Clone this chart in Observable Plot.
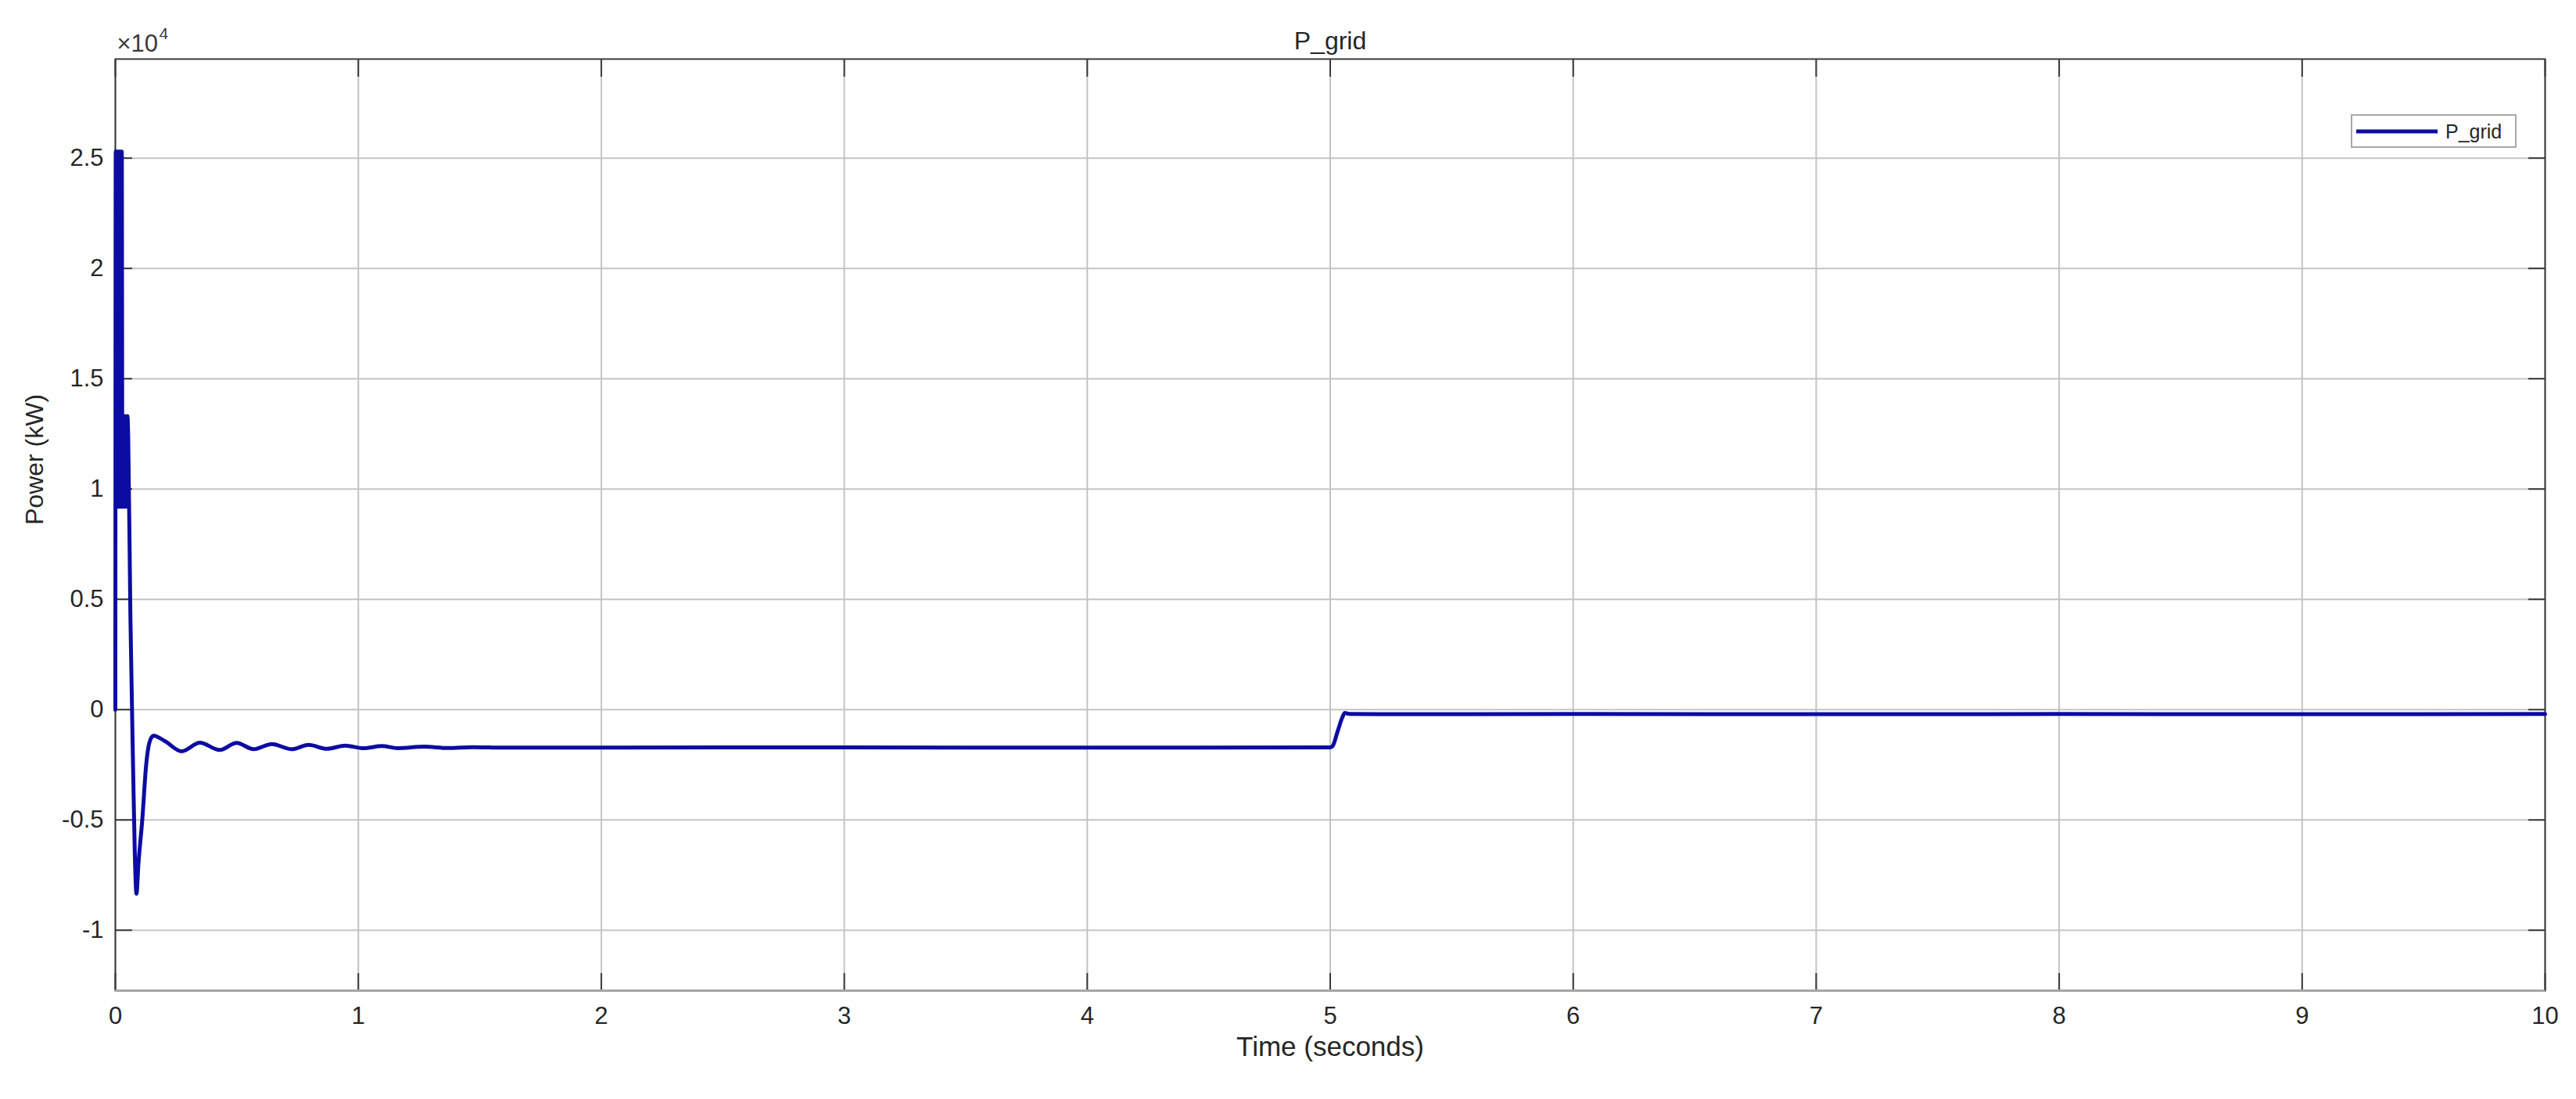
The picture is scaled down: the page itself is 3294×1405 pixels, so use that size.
<!DOCTYPE html>
<html>
<head>
<meta charset="utf-8">
<script src="https://cdn.jsdelivr.net/npm/d3@7"></script>
<script src="https://cdn.jsdelivr.net/npm/@observablehq/plot@0.6"></script>
<style>
  html, body { margin: 0; padding: 0; background: #ffffff; }
  #wrap { position: relative; width: 3294px; height: 1405px; font-family: "Liberation Sans", Arial, Helvetica, sans-serif; }
  #legend { position: absolute; left: 3006px; top: 146px; width: 208px; height: 39px; border: 2px solid #a8a8a8; background: #fff; box-sizing: content-box; }
  #legend svg { position: absolute; left: 0; top: 0; }
</style>
</head>
<body>
<div id="wrap"></div>
<script>
// ---- data (time in s, grid power in kW) ----
const timeS = [0, 0.0015, 0.004, 0.0065, 0.009, 0.0115, 0.014, 0.0165, 0.019, 0.0215,
  0.024, 0.0265, 0.029, 0.032, 0.035, 0.038, 0.041, 0.044, 0.047, 0.050,
  0.053, 0.062, 0.073, 0.080, 0.087, 0.095, 0.111, 0.127, 0.140, 0.157,
  0.203, 0.273, 0.348, 0.429, 0.499, 0.569, 0.644, 0.725, 0.795, 0.871,
  0.946, 1.021, 1.097, 1.162, 1.27, 1.37, 1.47, 1.6, 2.0, 3.0,
  4.0, 5.0, 5.01, 5.03, 5.05, 5.06, 5.08, 5.2, 6, 7,
  8, 9, 10];
const pGridKW = [0, 25300, 9200, 25300, 9200, 25300, 9200, 25300, 9200, 25300,
  9200, 25300, 9200, 13300, 9200, 13300, 9200, 13300, 9200, 13300,
  12300, 4200, -2600, -6500, -8350, -7000, -4965, -2480, -1500, -1180,
  -1420, -1890, -1500, -1830, -1510, -1795, -1560, -1795, -1600, -1775,
  -1630, -1750, -1655, -1745, -1680, -1740, -1700, -1725, -1720, -1715,
  -1720, -1710, -1650, -1000, -350, -150, -200, -210, -200, -205,
  -200, -205, -200];

const xTicks = [0, 1, 2, 3, 4, 5, 6, 7, 8, 9, 10];
const xTickLabels = ["0", "1", "2", "3", "4", "5", "6", "7", "8", "9", "10"];
const yTicks = [-10000, -5000, 0, 5000, 10000, 15000, 20000, 25000];
const yTickLabels = ["-1", "-0.5", "0", "0.5", "1", "1.5", "2", "2.5"];
const xDomain = [0, 10];
const yDomain = [-12740, 29490];

const titleText = "P_grid";
const xLabel = "Time (seconds)";
const yLabel = "Power (kW)";
const seriesName = "P_grid";
const exponentBase = "\u00d710";
const exponentPower = "4";

// ---- build ----
const data = timeS.map((t, i) => ({t, p: pGridKW[i]}));
const lineColor = "#0c0ca2";
const textColor = "#262626";
const font = "Liberation Sans, Arial, Helvetica, sans-serif";

const chart = Plot.plot({
  width: 3294,
  height: 1405,
  marginLeft: 147,
  marginRight: 40,
  marginTop: 75,
  marginBottom: 139,
  style: {fontFamily: font, color: textColor, background: "#ffffff", overflow: "visible"},
  x: {domain: xDomain},
  y: {domain: yDomain},
  marks: [
    Plot.gridX(xTicks, {stroke: "#c4c4c4", strokeOpacity: 1, strokeWidth: 2}),
    Plot.gridY(yTicks, {stroke: "#c4c4c4", strokeOpacity: 1, strokeWidth: 2}),
    // inward ticks on all four sides
    Plot.axisX({ticks: xTicks, anchor: "bottom", tickSize: -22, fill: "none", stroke: "#3a3a3a", strokeWidth: 2, label: null}),
    Plot.axisX({ticks: xTicks, anchor: "top", tickSize: -22, fill: "none", stroke: "#3a3a3a", strokeWidth: 2, label: null}),
    Plot.axisY({ticks: yTicks, anchor: "left", tickSize: -22, fill: "none", stroke: "#3a3a3a", strokeWidth: 2, label: null}),
    Plot.axisY({ticks: yTicks, anchor: "right", tickSize: -22, fill: "none", stroke: "#3a3a3a", strokeWidth: 2, label: null}),
    // tick labels
    Plot.axisX({ticks: xTicks, anchor: "bottom", tickSize: 0, tickPadding: 20, fontSize: 31, fill: textColor,
      tickFormat: d => xTickLabels[xTicks.indexOf(d)], label: null}),
    Plot.axisY({ticks: yTicks, anchor: "left", tickSize: 0, tickPadding: 15, fontSize: 31, fill: textColor,
      tickFormat: d => yTickLabels[yTicks.indexOf(d)], label: null}),
    // frame
    Plot.frame({stroke: "#3a3a3a", strokeWidth: 2}),
    Plot.ruleY([yDomain[0]], {stroke: "#a6a6a6", strokeWidth: 3}),
    // series
    Plot.line(data, {x: "t", y: "p", stroke: lineColor, strokeWidth: 5, curve: "monotone-x", strokeLinejoin: "round"}),
    // texts
    Plot.text([titleText], {frameAnchor: "top", dy: -23, lineAnchor: "middle", fontSize: 32, fill: textColor}),
    Plot.text([xLabel], {frameAnchor: "bottom", dy: 72, lineAnchor: "middle", fontSize: 35, fill: textColor}),
    Plot.text([yLabel], {frameAnchor: "left", dx: -103, rotate: -90, lineAnchor: "middle", fontSize: 32, fill: textColor}),
    Plot.text([exponentBase], {frameAnchor: "top-left", textAnchor: "start", dx: 2, dy: -19, lineAnchor: "middle", fontSize: 31, fill: "#3a3a3a"}),
    Plot.text([exponentPower], {frameAnchor: "top-left", textAnchor: "start", dx: 56, dy: -32, lineAnchor: "middle", fontSize: 21, fill: "#3a3a3a"})
  ]
});

const wrap = document.getElementById("wrap");
wrap.appendChild(chart);

// legend box
const legend = document.createElement("div");
legend.id = "legend";
legend.innerHTML = `<svg width="208" height="39">
  <line x1="5" y1="20" x2="109" y2="20" stroke="${lineColor}" stroke-width="5"/>
  <text x="119" y="29" font-family="${font}" font-size="25" fill="${textColor}">${seriesName}</text>
</svg>`;
wrap.appendChild(legend);
</script>
</body>
</html>
